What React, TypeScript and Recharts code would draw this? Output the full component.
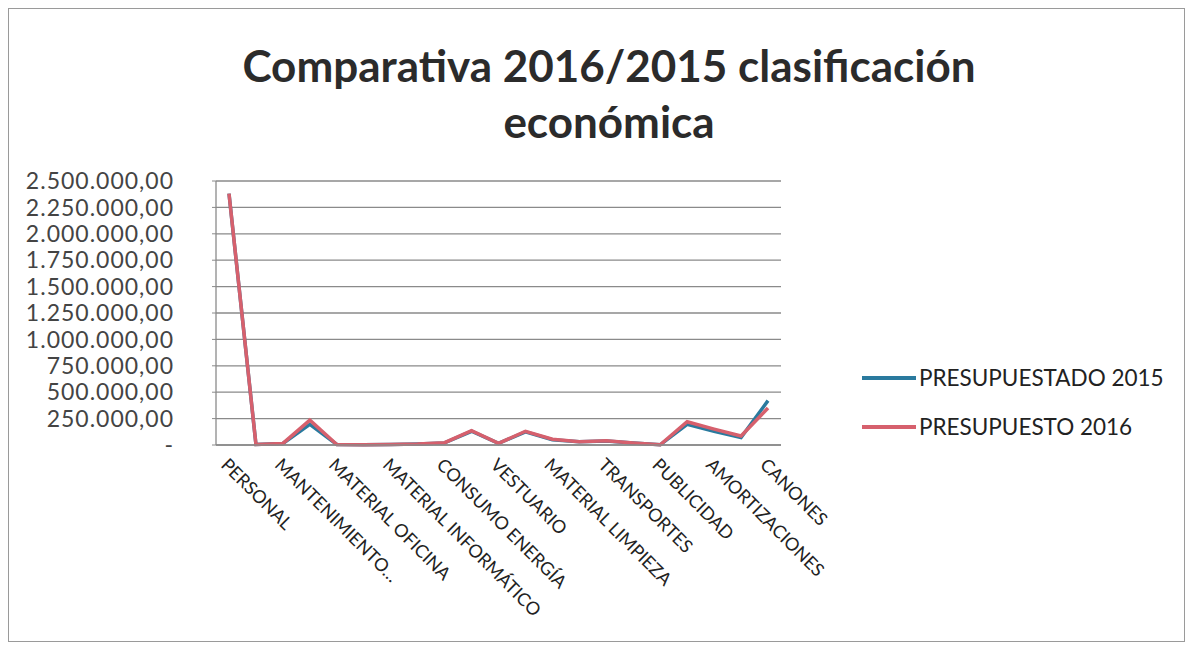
import { LineChart, Line, XAxis, YAxis, CartesianGrid } from 'recharts'

const categories = [
  'PERSONAL',
  'ARRENDAMIENTOS',
  'MANTENIMIENTO…',
  'REPARACIONES',
  'MATERIAL OFICINA',
  'PRENSA Y LIBROS',
  'MATERIAL INFORMÁTICO',
  'SUMINISTROS',
  'CONSUMO ENERGÍA',
  'AGUA',
  'VESTUARIO',
  'COMUNICACIONES',
  'MATERIAL LIMPIEZA',
  'PRIMAS SEGUROS',
  'TRANSPORTES',
  'TRIBUTOS',
  'PUBLICIDAD',
  'TRABAJOS EXTERIORES',
  'AMORTIZACIONES',
  'GASTOS DIVERSOS',
  'CANONES',
]

const presupuestado2015 = [
  2380000, 5000, 15000, 195000, 5000, 3000, 5000, 10000, 20000, 130000, 15000,
  125000, 50000, 30000, 38000, 18000, 2000, 195000, 130000, 70000, 420000,
]

const presupuesto2016 = [
  2380000, 5000, 15000, 235000, 5000, 3000, 5000, 10000, 22000, 135000, 15000,
  130000, 55000, 30000, 40000, 20000, 2000, 220000, 150000, 85000, 350000,
]

const yTicks = [0, 250000, 500000, 750000, 1000000, 1250000, 1500000, 1750000, 2000000, 2250000, 2500000]

const seriesNames = ['PRESUPUESTADO 2015', 'PRESUPUESTO 2016']
const COLORS = ['#2a7a9e', '#d6606d']

const data = categories.map((name, i) => ({
  name,
  p2015: presupuestado2015[i],
  p2016: presupuesto2016[i],
}))

function formatEs(v: number) {
  if (v === 0) return '-'
  const s = Math.round(v).toString().replace(/\B(?=(\d{3})+(?!\d))/g, '.')
  return s + ',00'
}

const FONT = 'Lato, "Open Sans", sans-serif'

export default function App() {
  return (
    <div
      style={{
        position: 'relative',
        width: 1175,
        height: 632,
        border: '1px solid #9a9a9a',
        background: '#fff',
        fontFamily: FONT,
      }}
    >
      <div
        style={{
          position: 'absolute',
          left: 0,
          width: 1200,
          top: 28,
          textAlign: 'center',
          fontSize: 44,
          fontWeight: 700,
          lineHeight: '56px',
          color: '#2b2b2b',
        }}
      >
        Comparativa 2016/2015 clasificación
        <br />
        económica
      </div>
      <LineChart
        width={1175}
        height={632}
        data={data}
        margin={{ top: 172, right: 403, bottom: 46, left: 7 }}
        style={{ position: 'absolute', left: 0, top: 0 }}
      >
        <CartesianGrid vertical={false} stroke="#8a8a8a" strokeWidth={1.3} />
        <XAxis
          dataKey="name"
          interval={1}
          angle={45}
          textAnchor="start"
          height={150}
          padding={{ left: 13, right: 13 }}
          tick={{ fontSize: 18, fill: '#222', fontFamily: FONT }}
          tickLine={false}
          axisLine={{ stroke: '#8a8a8a', strokeWidth: 1.3 }}
          tickMargin={6}
        />
        <YAxis
          width={200}
          domain={[0, 2500000]}
          ticks={yTicks}
          interval={0}
          tickFormatter={formatEs}
          tick={{ fontSize: 23, fill: '#444', fontFamily: FONT, letterSpacing: 1 }}
          tickSize={4}
          tickMargin={38}
          tickLine={{ stroke: '#8a8a8a' }}
          axisLine={{ stroke: '#8a8a8a', strokeWidth: 1.3 }}
        />
        <Line
          type="linear"
          dataKey="p2015"
          name={seriesNames[0]}
          stroke={COLORS[0]}
          strokeWidth={3.5}
          dot={false}
          isAnimationActive={false}
        />
        <Line
          type="linear"
          dataKey="p2016"
          name={seriesNames[1]}
          stroke={COLORS[1]}
          strokeWidth={3.5}
          dot={false}
          isAnimationActive={false}
        />
      </LineChart>
      <div
        style={{
          position: 'absolute',
          left: 853,
          top: 344,
          fontFamily: FONT,
          fontSize: 22.5,
          color: '#222',
        }}
      >
        {seriesNames.map((n, i) => (
          <div key={n} style={{ display: 'flex', alignItems: 'center', height: 49 }}>
            <span
              style={{ display: 'inline-block', width: 54, height: 4, background: COLORS[i], marginRight: 3 }}
            />
            <span>{n}</span>
          </div>
        ))}
      </div>
    </div>
  )
}
